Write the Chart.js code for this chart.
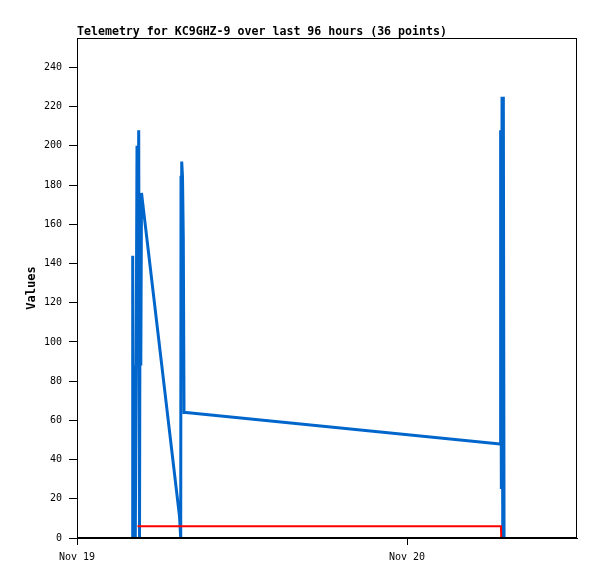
<!DOCTYPE html>
<html>
<head>
<meta charset="utf-8">
<script src="https://cdn.jsdelivr.net/npm/chart.js@4/dist/chart.umd.min.js"></script>
<style>
  body { margin: 0; background: #fff; }
  #wrap { width: 597px; height: 579px; }
</style>
</head>
<body>
<div id="wrap"><canvas id="telemetryChart" width="597" height="579"></canvas></div>
<script>
// hours since Nov 19 00:00
const blueHours = [4.000, 4.051, 4.095, 4.145, 4.196, 4.240, 4.305, 4.364, 4.415, 4.487,
  4.545, 4.596, 4.640, 4.691, 7.455, 7.542, 7.564, 7.615, 7.673, 7.731, 7.782, 7.927,
  30.764, 30.807, 30.858, 30.909, 30.960, 31.004, 31.055];
const blueValues = [0, 144, 0, 88, 48, 0, 96, 200, 96, 208,
  0, 176, 88, 176, 11, 0, 184, 192, 184, 152, 64, 64,
  48, 208, 25, 225, 0, 225, 0];

const redHours = [4.40, 30.83, 30.85];
const redValues = [6, 6, 0];

const tickHours = [0, 24];
const tickLabels = ['Nov 19', 'Nov 20'];

const xMax = 36.36;
const yMax = 255;

const titleText = 'Telemetry for KC9GHZ-9 over last 96 hours (36 points)';

function toPoints(xs, ys) {
  return xs.map((x, i) => ({ x: x, y: ys[i] }));
}

// titre aligné sur le bord gauche du graphe + cadre
const framePlugin = {
  id: 'frame',
  afterDatasetsDraw(chart) {
    const { ctx, chartArea: a } = chart;
    ctx.save();
    ctx.strokeStyle = '#000';
    ctx.lineWidth = 1;
    ctx.strokeRect(a.left + 0.5, a.top + 0.5, a.right - a.left - 1, a.bottom - a.top);
    ctx.lineWidth = 2;
    ctx.beginPath();
    ctx.moveTo(a.left, a.bottom);
    ctx.lineTo(a.right, a.bottom);
    ctx.stroke();
    ctx.restore();
  },
  afterDraw(chart) {
    const { ctx, chartArea: a } = chart;
    ctx.save();
    ctx.fillStyle = '#000';
    ctx.font = 'bold 11.6px "DejaVu Sans Mono"';
    ctx.textAlign = 'left';
    ctx.textBaseline = 'alphabetic';
    ctx.fillText(titleText, a.left, a.top - 3);
    ctx.restore();
  }
};

const ctx = document.getElementById('telemetryChart').getContext('2d');

new Chart(ctx, {
  type: 'line',
  data: {
    datasets: [
      {
        label: 'red',
        data: toPoints(redHours, redValues),
        borderColor: '#ff0000',
        borderWidth: 2,
        pointRadius: 0,
        tension: 0,
        order: 1,
        clip: 0
      },
      {
        label: 'blue',
        data: toPoints(blueHours, blueValues),
        borderColor: '#0066cc',
        borderWidth: 3,
        pointRadius: 0,
        tension: 0,
        order: 2,
        clip: 0
      }
    ]
  },
  options: {
    responsive: false,
    animation: false,
    layout: { padding: { top: 38, right: 20, bottom: 0, left: 0 } },
    plugins: {
      legend: { display: false },
      tooltip: { enabled: false }
    },
    scales: {
      x: {
        type: 'linear',
        min: 0,
        max: xMax,
        afterFit(scale) { scale.height = 41; },
        afterBuildTicks(scale) { scale.ticks = tickHours.map(v => ({ value: v })); },
        grid: { drawOnChartArea: false, color: '#000', tickLength: 7 },
        border: { color: '#000', width: 1 },
        ticks: {
          color: '#000',
          padding: 6,
          maxRotation: 0,
          autoSkip: false,
          font: { family: 'DejaVu Sans Mono', size: 10 },
          callback: (v) => tickLabels[tickHours.indexOf(v)]
        }
      },
      y: {
        min: 0,
        max: yMax,
        afterFit(scale) { scale.width = 77; },
        grid: { drawOnChartArea: false, color: '#000', tickLength: 8 },
        border: { color: '#000', width: 1 },
        ticks: {
          stepSize: 20,
          includeBounds: false,
          color: '#000',
          padding: 7,
          font: { family: 'DejaVu Sans Mono', size: 10 }
        },
        title: {
          display: true,
          text: 'Values',
          color: '#000',
          font: { family: 'DejaVu Sans Mono', size: 12, weight: 'bold' },
          padding: { top: 25, bottom: 0 }
        }
      }
    }
  },
  plugins: [framePlugin]
});
</script>
</body>
</html>
